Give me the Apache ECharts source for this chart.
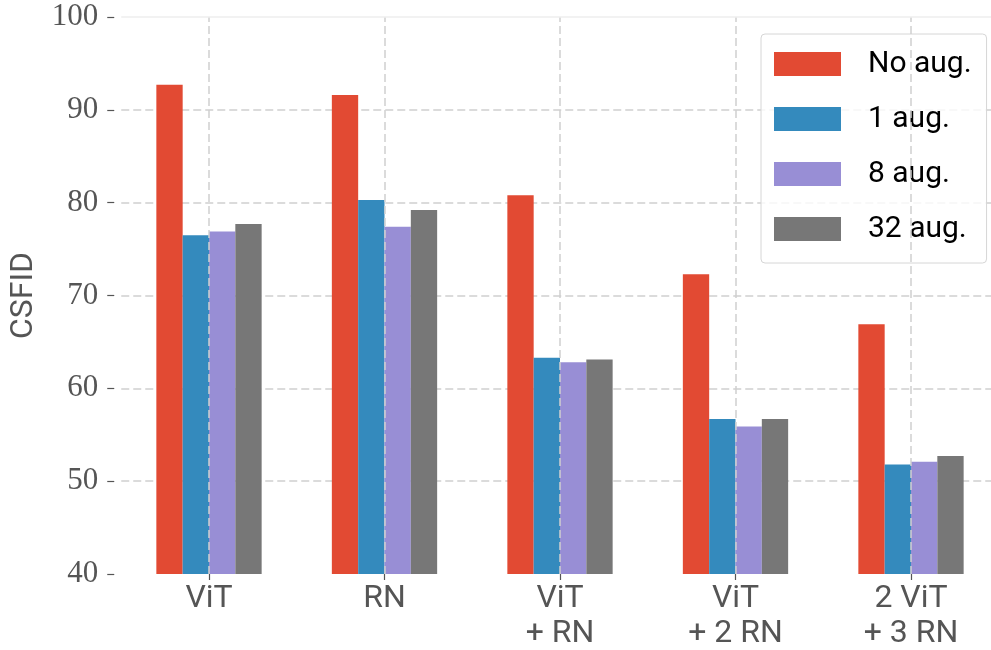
<!DOCTYPE html>
<html>
<head>
<meta charset="utf-8">
<script src="https://cdn.jsdelivr.net/npm/echarts@6/dist/echarts.min.js"></script>
<style>
html,body{margin:0;padding:0;background:#fff;}
#chart{width:991px;height:650px;}
</style>
</head>
<body>
<div id="chart"></div>
<script>
const categories = ['ViT', 'RN', 'ViT\n+ RN', 'ViT\n+ 2 RN', '2 ViT\n+ 3 RN'];
const seriesNames = ['No aug.', '1 aug.', '8 aug.', '32 aug.'];
const noAug = [92.7, 91.6, 80.8, 72.3, 66.9];
const aug1 = [76.5, 80.3, 63.3, 56.7, 51.8];
const aug8 = [76.9, 77.4, 62.8, 55.9, 52.1];
const aug32 = [77.7, 79.2, 63.1, 56.7, 52.7];
const yTicks = [40, 50, 60, 70, 80, 90, 100];
const colors = ['#E24A33', '#348ABD', '#988ED5', '#777777'];

const values = [noAug, aug1, aug8, aug32];

const chart = echarts.init(document.getElementById('chart'), null, {renderer: 'canvas'});

const barSeries = seriesNames.map((n, i) => ({
  name: n,
  type: 'bar',
  data: values[i],
  barGap: '0%',
  barCategoryGap: '40%',
  itemStyle: {color: colors[i]},
  z: 3,
  silent: true
}));

const gridLineStyle = {type: [8, 4], color: '#cfcfcf', width: 1.5};

const option = {
  animation: false,
  backgroundColor: '#fff',
  grid: {left: 121.25, right: -7.75, top: 17, bottom: 76, containLabel: false, outerBoundsMode: 'none'},
  legend: {
    orient: 'vertical',
    left: 761,
    top: 34,
    padding: [15, 15, 19, 13],
    itemWidth: 67,
    itemHeight: 24,
    itemGap: 25,
    icon: 'rect',
    data: seriesNames,
    backgroundColor: 'rgba(255,255,255,0.8)',
    borderColor: '#d6d6d6',
    borderWidth: 1,
    borderRadius: 4,
    textStyle: {fontFamily: 'Roboto', fontSize: 30, color: '#000', lineHeight: 24, padding: [0, 0, 0, 22]}
  },
  xAxis: {
    type: 'category',
    data: categories,
    boundaryGap: true,
    axisLine: {show: false},
    axisTick: {show: true, alignWithLabel: true, length: 6, lineStyle: {color: '#555', width: 1.2}},
    splitLine: {show: false},
    axisLabel: {fontFamily: 'Roboto', fontSize: 32, color: '#555', lineHeight: 34.5, margin: 8}
  },
  yAxis: {
    type: 'value',
    min: yTicks[0],
    max: yTicks[yTicks.length - 1],
    interval: 10,
    offset: 7,
    name: 'CSFID',
    nameLocation: 'middle',
    nameGap: 74,
    nameTextStyle: {fontFamily: 'Roboto', fontSize: 32, color: '#555'},
    axisLine: {show: false},
    axisTick: {show: true, length: 7, lineStyle: {color: '#555', width: 1.2}},
    axisLabel: {fontFamily: 'Liberation Serif', fontSize: 31, color: '#555', margin: 16},
    splitLine: {show: true, showMaxLine: false, showMinLine: false, lineStyle: gridLineStyle}
  },
  series: [
    {
      type: 'scatter',
      data: [],
      z: 1,
      silent: true,
      markLine: {
        silent: true,
        symbol: 'none',
        label: {show: false},
        lineStyle: gridLineStyle,
        data: categories.map(c => ({xAxis: c})).concat([
          {yAxis: yTicks[yTicks.length - 1], lineStyle: {type: 'solid', color: '#eeeeee', width: 1.5}}
        ])
      }
    }
  ].concat(barSeries)
};

chart.setOption(option);
</script>
</body>
</html>
